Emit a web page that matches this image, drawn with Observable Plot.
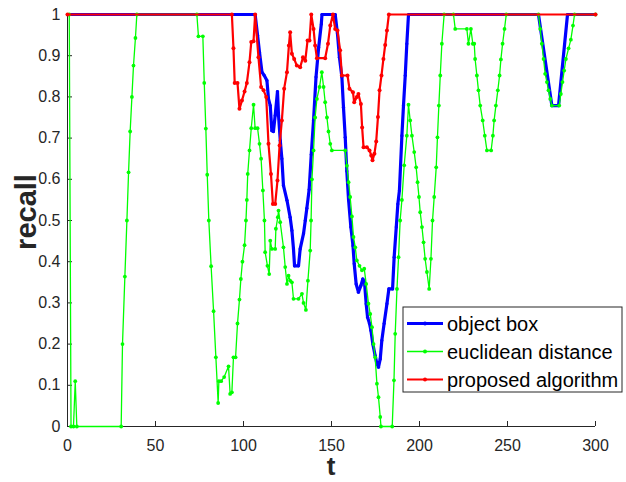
<!DOCTYPE html>
<html>
<head>
<meta charset="utf-8">
<script src="https://cdn.jsdelivr.net/npm/d3@7"></script>
<script src="https://cdn.jsdelivr.net/npm/@observablehq/plot@0.6"></script>
<style>
  html, body { margin: 0; padding: 0; background: #fff; }
  #chart svg { display: block; }
</style>
</head>
<body>
<div id="chart"></div>
<script>
// ---- data (t, recall) ----
const seriesNames = ["object box", "euclidean distance", "proposed algorithm"];
const seriesColors = ["#0000ff", "#00ff00", "#ff0000"];

const objectBox = [
  [0,1],[106.6,1],[108,0.949],[109.1,0.908],[110.5,0.86],[111.8,0.852],[113.3,0.84],[114.2,0.795],
  [115.2,0.779],[116.1,0.718],[117,0.716],[118,0.755],[119.3,0.813],[119.9,0.755],[120.9,0.694],
  [121.8,0.65],[122.7,0.585],[124.7,0.549],[126.5,0.508],[127.5,0.476],[128.4,0.431],[129,0.39],
  [131.25,0.39],[132.2,0.431],[134.1,0.468],[135.1,0.5],[136,0.53],[137.3,0.575],[138.5,0.66],
  [139.8,0.743],[141.2,0.848],[142.7,0.92],[144.2,0.977],[144.6,1],[152.1,1],[153.4,0.953],
  [154.5,0.896],[155.9,0.848],[156.8,0.775],[157.8,0.702],[158.7,0.62],[159.7,0.55],[161,0.484],
  [162.2,0.439],[162.9,0.395],[164,0.346],[165.3,0.326],[166.7,0.342],[167.8,0.358],[168.75,0.35],
  [169.7,0.298],[170.5,0.265],[171.6,0.25],[172.4,0.233],[173.5,0.2],[174.8,0.172],[175.8,0.152],
  [176.7,0.144],[177.7,0.164],[178.6,0.209],[179.9,0.25],[181.5,0.298],[182.6,0.334],[184.7,0.334],
  [185.6,0.411],[186.8,0.484],[187.7,0.54],[188.6,0.573],[190,0.706],[190.9,0.779],[191.9,0.852],
  [192.8,0.929],[193.75,1],[267.6,1],[275.2,0.779],[279,0.779],[284.1,1],[300,1]
];

const euclidean = [
  [1,1],[2,0],[3.4,0],[4.4,0.11],[5.3,0],[30.5,0],[31.25,0.2],[32.6,0.364],[33.75,0.5],[34.7,0.617],
  [35.6,0.716],[36.6,0.8],[37.5,0.876],[38.6,0.943],[39.4,1],[73.5,1],[74.4,0.947],[76.9,0.947],
  [77.7,0.834],[78.6,0.723],[79.4,0.611],[80.3,0.5],[81.6,0.389],[83,0.28],[84.3,0.168],[85.6,0.057],
  [86,0.11],[87.3,0.11],[89,0.12],[91.5,0.146],[92.4,0.079],[93.4,0.083],[94.3,0.168],[95.5,0.168],
  [96.6,0.25],[97.7,0.308],[98.5,0.358],[99.4,0.4],[100.6,0.44],[101.4,0.5],[101.9,0.55],[102.4,0.613],
  [103.4,0.67],[104.4,0.724],[105.7,0.781],[106.6,0.724],[108,0.724],[109.1,0.686],[110,0.65],
  [111,0.573],[111.9,0.5],[112.3,0.423],[113.6,0.39],[114.6,0.37],[115.2,0.451],[116.1,0.431],
  [118,0.431],[118.4,0.48],[119.5,0.508],[119.9,0.524],[120.85,0.496],[122.7,0.435],[123.7,0.387],
  [124.7,0.346],[125.6,0.366],[126.5,0.354],[127.5,0.35],[128.4,0.31],[131.25,0.31],[133.2,0.322],
  [134.1,0.3],[135.45,0.283],[136.6,0.354],[137.9,0.427],[138.4,0.5],[138.9,0.6],[139.8,0.67],
  [140.7,0.75],[141.7,0.795],[143.2,0.824],[144.5,0.86],[145.5,0.824],[146.4,0.787],[147.4,0.75],
  [148.3,0.716],[149.3,0.686],[150.2,0.67],[157.8,0.67],[158.75,0.633],[159.7,0.593],[160.6,0.557],
  [161.6,0.51],[162.5,0.46],[163.5,0.435],[164.4,0.403],[165.9,0.39],[167.3,0.379],[168.6,0.383],
  [169.7,0.346],[171,0.298],[172,0.273],[173,0.241],[173.9,0.2],[174.8,0.168],[175.8,0.104],
  [176.7,0.071],[177.7,0.023],[178.1,0],[184.5,0],[185.5,0.112],[186.2,0.225],[187.2,0.334],
  [188.1,0.411],[189,0.5],[190,0.55],[191.3,0.634],[192.8,0.706],[193.75,0.781],[194.7,0.743],
  [195.7,0.706],[197,0.666],[198.1,0.629],[198.9,0.593],[199.7,0.557],[200.4,0.52],[201.4,0.484],
  [202.3,0.447],[203.2,0.407],[204.2,0.375],[205.5,0.334],[206.5,0.407],[207.4,0.5],[208.35,0.557],
  [209.5,0.629],[210.2,0.702],[211,0.779],[211.8,0.852],[212.7,0.929],[214,1],[219.3,1],[220.3,0.965],
  [226.9,0.965],[227.8,0.929],[229.2,0.965],[230.3,0.929],[231.1,0.929],[231.6,0.892],[232.6,0.852],
  [233.5,0.816],[234.5,0.779],[235.9,0.743],[237.1,0.706],[238.3,0.67],[240.7,0.67],[241.7,0.706],
  [242.4,0.743],[243.4,0.779],[244.5,0.816],[245.5,0.852],[246.25,0.891],[247.2,0.929],[248.3,0.965],
  [249.3,1],[267.6,1],[268.6,0.965],[269.5,0.929],[270.5,0.892],[271.4,0.856],[272.4,0.836],
  [273.3,0.816],[274.3,0.795],[275.2,0.779],[279.4,0.779],[280.3,0.807],[281.25,0.836],[282.2,0.864],
  [283.2,0.892],[284.7,0.918],[286,0.939],[287.2,0.973],[288.1,1],[300,1]
];

const proposed = [
  [0,1],[93.4,1],[94.3,0.918],[95,0.834],[96.6,0.834],[97.7,0.771],[99.1,0.791],[100.6,0.813],
  [101.9,0.834],[103.4,0.884],[104.4,0.933],[105.7,0.935],[106.6,1],[108.5,0.896],[110,0.824],
  [111.4,0.816],[112.9,0.8],[114.2,0.686],[115.6,0.613],[116.7,0.54],[118,0.54],[119.3,0.597],
  [120.5,0.682],[121.8,0.743],[123.1,0.82],[124.7,0.86],[125.8,0.925],[126.5,0.957],[127.5,0.905],
  [128.8,0.892],[130.3,0.876],[132.2,0.872],[133.8,0.896],[135.1,0.888],[136.4,0.937],[137.5,0.937],
  [138.5,1],[139.8,0.965],[140.7,0.925],[141.7,0.894],[146.4,0.894],[148,0.929],[149.3,0.973],
  [150.8,1],[152.1,0.965],[153.4,0.961],[154.9,0.913],[155.9,0.852],[159.1,0.852],[160.2,0.82],
  [162.2,0.811],[162.9,0.787],[164.4,0.8],[165.3,0.807],[166.7,0.783],[167.4,0.726],[168.2,0.678],
  [170.1,0.678],[171.6,0.67],[172.6,0.658],[173.3,0.646],[174.4,0.662],[175.4,0.692],[176.4,0.751],
  [177.3,0.816],[178.4,0.852],[179.5,0.892],[180.5,0.926],[181.5,0.961],[182.6,1],[300,1]
];

const xTicks = [0, 50, 100, 150, 200, 250, 300];
const xTickLabels = ["0", "50", "100", "150", "200", "250", "300"];
const yTicks = [0, 0.1, 0.2, 0.3, 0.4, 0.5, 0.6, 0.7, 0.8, 0.9, 1];
const yTickLabels = ["0", "0.1", "0.2", "0.3", "0.4", "0.5", "0.6", "0.7", "0.8", "0.9", "1"];
const xLabel = "t";
const yLabel = "recall";

// ---- layout ----
const W = 626, H = 482;
const mL = 67, mR = 31, mT = 14, mB = 56;
const axisColor = "#262626";
const font = "'Liberation Sans', Arial, Helvetica, sans-serif";
const tickPx = 5;
const tickY = tickPx / (H - mT - mB);        // inward tick length in y units
const tickX = tickPx * 300 / (W - mL - mR);  // inward tick length in x units

const px = d => d[0], py = d => d[1];

const chart = Plot.plot({
  width: W, height: H,
  marginLeft: mL, marginRight: mR, marginTop: mT, marginBottom: mB,
  x: {domain: [0, 300]},
  y: {domain: [0, 1]},
  style: {fontFamily: font, background: "#fff", color: axisColor, overflow: "visible"},
  marks: [
    Plot.axisX(xTicks, {tickSize: 0, tickPadding: 13, fontSize: 16, fill: axisColor,
      tickFormat: d => xTickLabels[xTicks.indexOf(d)], label: null}),
    Plot.axisY(yTicks, {tickSize: 0, tickPadding: 7, fontSize: 16, fill: axisColor,
      tickFormat: d => yTickLabels[yTicks.indexOf(d)], label: null}),
    Plot.ruleX(xTicks, {x: d => d, y1: 0, y2: tickY, stroke: axisColor, strokeWidth: 1}),
    Plot.ruleY(yTicks, {y: d => d, x1: 0, x2: tickX, stroke: axisColor, strokeWidth: 1}),
    Plot.ruleY([0], {stroke: axisColor, strokeWidth: 1}),
    Plot.ruleX([0], {stroke: axisColor, strokeWidth: 1}),

    Plot.line(objectBox, {x: px, y: py, stroke: seriesColors[0], strokeWidth: 3.2}),
    Plot.dot(objectBox, {x: px, y: py, r: 1.6, fill: seriesColors[0], stroke: null}),
    Plot.line(euclidean, {x: px, y: py, stroke: seriesColors[1], strokeWidth: 1.3}),
    Plot.dot(euclidean, {x: px, y: py, r: 1.9, fill: seriesColors[1], stroke: null}),
    Plot.line(proposed, {x: px, y: py, stroke: seriesColors[2], strokeWidth: 2.2}),
    Plot.dot(proposed, {x: px, y: py, r: 2, fill: seriesColors[2], stroke: null})
  ]
});

const svg = d3.select(chart);

// axis titles
svg.append("text")
  .attr("x", 331).attr("y", 475)
  .attr("text-anchor", "middle")
  .attr("font-family", font).attr("font-weight", "bold").attr("font-size", 26)
  .attr("fill", axisColor)
  .text(xLabel);
svg.append("text")
  .attr("transform", "translate(36,212) rotate(-90)")
  .attr("text-anchor", "middle")
  .attr("font-family", font).attr("font-weight", "bold").attr("font-size", 29)
  .attr("fill", axisColor)
  .text(yLabel);

// legend
const lg = svg.append("g").attr("text-anchor", "start");
lg.append("rect")
  .attr("x", 403).attr("y", 307).attr("width", 219).attr("height", 85)
  .attr("fill", "#ffffff").attr("stroke", axisColor).attr("stroke-width", 1);
const legendWidths = [3.2, 1.3, 2.2];
seriesNames.forEach((name, i) => {
  const yy = 323.5 + i * 28;
  lg.append("line").attr("x1", 407).attr("x2", 443).attr("y1", yy).attr("y2", yy)
    .attr("stroke", seriesColors[i]).attr("stroke-width", legendWidths[i]);
  lg.append("circle").attr("cx", 425).attr("cy", yy).attr("r", 2)
    .attr("fill", seriesColors[i]);
  lg.append("text").attr("x", 447).attr("y", yy + 7)
    .attr("text-anchor", "start")
    .attr("font-family", font).attr("font-size", 20).attr("fill", "#000")
    .text(name);
});

document.getElementById("chart").appendChild(chart);
</script>
</body>
</html>
